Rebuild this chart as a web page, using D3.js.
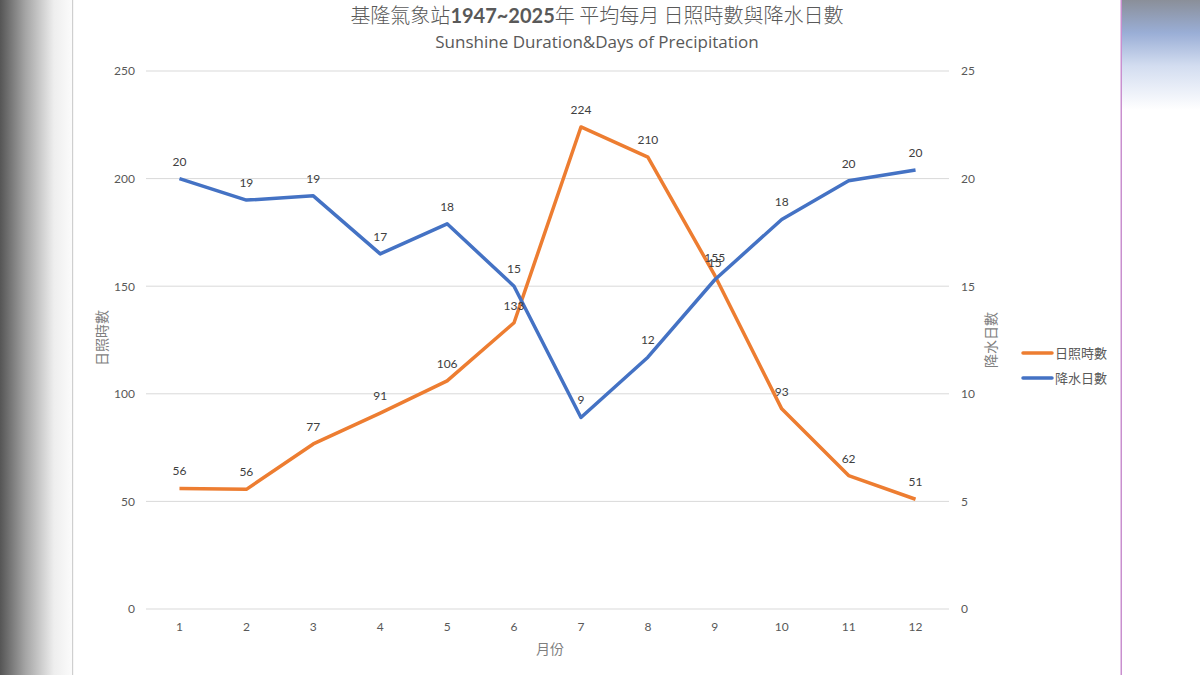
<!DOCTYPE html>
<html><head><meta charset="utf-8">
<script src="https://cdn.jsdelivr.net/npm/d3@7"></script>
<style>
html,body{margin:0;padding:0;width:1200px;height:675px;overflow:hidden;background:#fff;}
svg{display:block;}
</style></head>
<body>
<svg id="chart" width="1200" height="675"></svg>
<script>
const months = [1,2,3,4,5,6,7,8,9,10,11,12];
const sunshine = [56,55.6,76.7,91,106,133,224,210,155,93,62,51];
const sunshineLabels = ["56","56","77","91","106","133","224","210","155","93","62","51"];
const rainDays = [20,19,19.2,16.5,17.9,15,8.9,11.7,15.3,18.1,19.9,20.4];
const rainLabels = ["20","19","19","17","18","15","9","12","15","18","20","20"];
const leftTicks = [0,50,100,150,200,250];
const rightTicks = [0,5,10,15,20,25];
const seriesNames = ["日照時數","降水日數"];
const titleParts = ["基隆氣象站","1947~2025","年 平均每月 日照時數與降水日數"];
const subtitle = "Sunshine Duration&Days of Precipitation";

const svg = d3.select("#chart");
const defs = svg.append("defs");
const lg = defs.append("linearGradient").attr("id","lbg").attr("x1","0").attr("x2","1").attr("y1","0").attr("y2","0");
lg.append("stop").attr("offset","0").attr("stop-color","#555555");
lg.append("stop").attr("offset","0.35").attr("stop-color","#a4a4a4");
lg.append("stop").attr("offset","0.75").attr("stop-color","#eeeeee");
lg.append("stop").attr("offset","1").attr("stop-color","#fbfbfb");
const rg = defs.append("linearGradient").attr("id","rbg").attr("x1","0").attr("x2","0").attr("y1","0").attr("y2","1");
rg.append("stop").attr("offset","0").attr("stop-color","#8a8f99");
rg.append("stop").attr("offset","0.3").attr("stop-color","#9aaed6");
rg.append("stop").attr("offset","0.6").attr("stop-color","#d3ddf0");
rg.append("stop").attr("offset","1").attr("stop-color","#ffffff");

svg.append("rect").attr("x",0).attr("y",0).attr("width",72).attr("height",675).attr("fill","url(#lbg)");
svg.append("rect").attr("x",72).attr("y",0).attr("width",1.2).attr("height",675).attr("fill","#cfcfcf");
svg.append("rect").attr("x",1122).attr("y",0).attr("width",78).attr("height",110).attr("fill","url(#rbg)");
svg.append("rect").attr("x",1120.5).attr("y",0).attr("width",1.5).attr("height",675).attr("fill","#c98fcf");

const L = 146, R = 949, T = 71, B = 609;
const x = d3.scaleBand().domain(months).range([L,R]).padding(0);
const yL = d3.scaleLinear().domain([0,250]).range([B,T]);
const yR = d3.scaleLinear().domain([0,25]).range([B,T]);
const cx = d => x(d) + x.bandwidth()/2;

const numFont = "Lato, 'Open Sans', sans-serif";
const cjkFont = "'Noto Sans CJK TC', 'Noto Sans CJK SC', sans-serif";

// gridlines
svg.append("g").selectAll("line").data(leftTicks).join("line")
  .attr("x1",L).attr("x2",R).attr("y1",d=>yL(d)).attr("y2",d=>yL(d))
  .attr("stroke","#d9d9d9").attr("stroke-width",1);

// left axis
const ga = svg.append("g").attr("transform",`translate(${L},0)`)
  .call(d3.axisLeft(yL).tickValues(leftTicks).tickSize(0).tickPadding(11));
ga.select(".domain").remove();
ga.selectAll("text").attr("font-family",numFont).attr("font-size",12).attr("fill","#595959");

// right axis
const gr = svg.append("g").attr("transform",`translate(${R},0)`)
  .call(d3.axisRight(yR).tickValues(rightTicks).tickSize(0).tickPadding(12));
gr.select(".domain").remove();
gr.selectAll("text").attr("font-family",numFont).attr("font-size",12).attr("fill","#595959");

// bottom axis
const gb = svg.append("g").attr("transform",`translate(0,${B})`)
  .call(d3.axisBottom(x).tickSize(0).tickPadding(13));
gb.select(".domain").remove();
gb.selectAll("text").attr("font-family",numFont).attr("font-size",12).attr("fill","#595959");

// axis titles
svg.append("text").attr("transform",`translate(107,338) rotate(-90)`).attr("text-anchor","middle")
  .attr("font-family",cjkFont).attr("font-size",14).attr("fill","#7f7f7f").text(seriesNames[0]);
svg.append("text").attr("transform",`translate(996,340) rotate(-90)`).attr("text-anchor","middle")
  .attr("font-family",cjkFont).attr("font-size",14).attr("fill","#7f7f7f").text(seriesNames[1]);
svg.append("text").attr("x",550).attr("y",654).attr("text-anchor","middle")
  .attr("font-family",cjkFont).attr("font-size",14).attr("fill","#7f7f7f").text("月份");

// title
const tt = svg.append("text").attr("x",597).attr("y",23).attr("text-anchor","middle")
  .attr("font-size",20).attr("fill","#595959");
tt.append("tspan").attr("font-family",cjkFont).attr("font-weight",300).text(titleParts[0]);
tt.append("tspan").attr("font-family",numFont).attr("font-weight","bold").text(titleParts[1]);
tt.append("tspan").attr("font-family",cjkFont).attr("font-weight",300).text(titleParts[2]);
svg.append("text").attr("x",597).attr("y",48).attr("text-anchor","middle")
  .attr("font-family","'Open Sans', Lato, sans-serif").attr("font-size",17).attr("fill","#595959").text(subtitle);

// lines
const lineL = d3.line().x((d,i)=>cx(months[i])).y(d=>yL(d));
const lineR = d3.line().x((d,i)=>cx(months[i])).y(d=>yR(d));
svg.append("path").datum(sunshine).attr("d",lineL).attr("fill","none")
  .attr("stroke","#ED7D31").attr("stroke-width",3.5).attr("stroke-linejoin","round");
svg.append("path").datum(rainDays).attr("d",lineR).attr("fill","none")
  .attr("stroke","#4472C4").attr("stroke-width",3.5).attr("stroke-linejoin","round");

// data labels
svg.append("g").selectAll("text").data(sunshine).join("text")
  .attr("x",(d,i)=>cx(months[i])).attr("y",d=>yL(d)-13).attr("text-anchor","middle")
  .attr("font-family",numFont).attr("font-size",12).attr("fill","#404040")
  .text((d,i)=>sunshineLabels[i]);
svg.append("g").selectAll("text").data(rainDays).join("text")
  .attr("x",(d,i)=>cx(months[i])).attr("y",d=>yR(d)-13).attr("text-anchor","middle")
  .attr("font-family",numFont).attr("font-size",12).attr("fill","#404040")
  .text((d,i)=>rainLabels[i]);

// legend
const colors = ["#ED7D31","#4472C4"];
const leg = svg.append("g");
seriesNames.forEach((n,i)=>{
  const yy = 353 + i*25;
  leg.append("line").attr("x1",1023).attr("x2",1052).attr("y1",yy).attr("y2",yy)
    .attr("stroke",colors[i]).attr("stroke-width",3.5).attr("stroke-linecap","round");
  leg.append("text").attr("x",1055).attr("y",yy+4.5).attr("font-family",cjkFont)
    .attr("font-size",13).attr("fill","#595959").text(n);
});
</script>
</body></html>
